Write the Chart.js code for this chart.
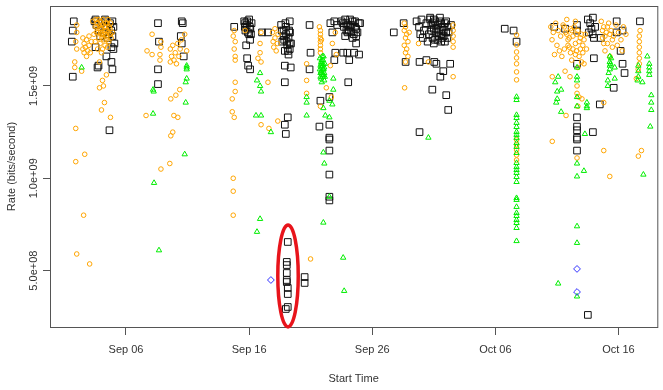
<!DOCTYPE html>
<html>
<head>
<meta charset="utf-8">
<script src="https://cdn.jsdelivr.net/npm/chart.js@4.4.0/dist/chart.umd.min.js"></script>
<style>
  html, body { margin: 0; padding: 0; background: #fff; }
  #chart { display: block; }
</style>
</head>
<body>
<canvas id="chart" width="663" height="390"></canvas>
<script>
// x = days since Sep 01, y = rate in units of 1e9 bits/second
const xTicks = [5, 15, 25, 35, 45];
const xTickLabels = ['Sep 06', 'Sep 16', 'Sep 26', 'Oct 06', 'Oct 16'];
const yTicks = [0.5, 1.0, 1.5];
const yTickLabels = ['5.0e+08', '1.0e+09', '1.5e+09'];

const squares = [
  [0.76,1.85],[0.68,1.80],[0.60,1.74],[0.68,1.55],[2.53,1.86],[2.45,1.85],[3.33,1.85],[3.90,1.85],[3.98,1.82],
  [2.53,1.71],[2.77,1.61],[2.69,1.60],[3.82,1.71],[4.06,1.73],[3.98,1.70],[3.41,1.66],[3.82,1.63],[3.90,1.59],[3.66,1.26],
  [2.6,1.83],[2.8,1.80],[3.0,1.84],[3.2,1.79],[3.4,1.82],[3.6,1.78],[3.7,1.84],[3.9,1.77],[3.5,1.76],[2.9,1.77],[3.8,1.80],[3.3,1.86],
  [7.60,1.84],[7.68,1.74],[7.60,1.59],[7.60,1.51],[9.53,1.85],[9.61,1.84],[9.45,1.77],[9.53,1.73],[9.69,1.66],
  [13.79,1.82],[14.68,1.84],[14.6,1.85],[14.8,1.83],[15.0,1.86],[15.1,1.81],[14.9,1.79],[14.7,1.80],[15.2,1.84],[15.0,1.78],
  [14.65,1.82],[14.85,1.85],[15.05,1.82],[15.15,1.78],
  [15.08,1.75],[14.76,1.72],[14.84,1.65],[14.92,1.61],[15.08,1.59],[16.05,1.79],[16.53,1.79],
  [17.6,1.83],[17.8,1.80],[18.0,1.78],[18.2,1.76],[17.7,1.74],[18.1,1.72],[18.3,1.70],[17.9,1.69],[18.4,1.73],[18.2,1.67],[17.8,1.77],[18.0,1.82],[18.3,1.79],
  [17.65,1.80],[17.85,1.75],[18.05,1.74],[18.25,1.80],[17.95,1.84],[18.15,1.69],
  [18.30,1.85],[18.30,1.79],[18.30,1.73],[17.90,1.61],[18.38,1.60],[17.90,1.52],[18.14,1.33],[17.90,1.29],[17.98,1.24],
  [18.14,0.655],[18.06,0.547],[18.06,0.530],[18.06,0.487],[18.06,0.449],[18.06,0.438],[18.14,0.406],[18.14,0.373],[18.14,0.303],[17.98,0.292],
  [19.51,0.465],[19.51,0.433],
  [19.91,1.83],[19.99,1.68],[19.91,1.59],[20.79,1.42],[20.71,1.28],[21.52,1.44],[21.52,1.29],[21.52,1.22],[21.52,1.21],[21.52,1.15],
  [21.52,1.02],[21.52,0.90],[21.52,0.88],[21.60,1.84],[21.92,1.85],[21.76,1.79],[22.16,1.83],
  [22.5,1.85],[22.7,1.82],[22.9,1.84],[23.1,1.80],[23.3,1.83],[23.5,1.78],[23.7,1.81],[23.9,1.84],[22.8,1.77],[23.2,1.86],[23.6,1.85],[23.0,1.79],[23.4,1.76],
  [22.6,1.84],[22.8,1.86],[23.0,1.83],[23.2,1.82],[23.4,1.85],[23.6,1.82],[23.8,1.79],[23.3,1.79],[22.9,1.80],[23.7,1.77],
  [22.97,1.68],[22.64,1.68],[23.13,1.64],[23.53,1.68],[23.93,1.67],[23.69,1.73],[24.01,1.84],[23.05,1.52],[22.00,1.68],[21.92,1.64],
  [26.75,1.79],[27.55,1.84],
  [28.6,1.85],[28.8,1.82],[29.0,1.86],[29.2,1.80],[29.4,1.84],[29.6,1.78],[29.8,1.83],[30.0,1.86],[30.2,1.81],[30.4,1.77],[30.6,1.84],
  [30.8,1.80],[31.0,1.85],[31.2,1.79],[31.4,1.83],[29.1,1.76],[29.5,1.74],[30.1,1.75],[30.9,1.74],[28.9,1.78],[29.7,1.87],[30.5,1.87],
  [29.7,1.86],[29.9,1.84],[30.1,1.85],[30.3,1.83],[30.5,1.85],[30.7,1.82],[30.9,1.84],[31.1,1.82],[29.8,1.80],[30.0,1.81],[30.2,1.79],
  [30.4,1.80],[30.6,1.78],[30.8,1.77],[31.0,1.79],[29.9,1.76],[30.3,1.75],[30.7,1.76],[31.1,1.76],[30.0,1.73],[30.6,1.74],
  [28.84,1.63],[29.40,1.64],[30.04,1.63],[30.21,1.62],[31.33,1.62],[30.77,1.58],[30.53,1.55],[31.01,1.45],[31.17,1.37],[29.88,1.48],[28.84,1.25],[27.71,1.63],
  [35.76,1.81],[36.48,1.80],[36.72,1.74],
  [39.78,1.82],[40.66,1.81],[41.63,1.83],[41.63,1.80],[42.51,1.86],[42.92,1.87],
  [42.7,1.84],[42.8,1.81],[42.9,1.78],[43.0,1.76],[42.6,1.79],[43.1,1.82],
  [43.56,1.76],[44.85,1.85],[44.85,1.79],[45.33,1.80],[46.74,1.85],[45.17,1.69],[45.33,1.62],[45.49,1.57],[44.61,1.49],
  [43.00,1.65],[43.48,1.40],[42.92,1.25],[41.63,1.62],[41.63,1.33],[41.63,1.28],[41.63,1.26],[41.63,1.22],[41.63,1.21],[41.63,1.15],[42.51,0.26]
];

const circles = [
  [1.00,1.83],[1.00,1.79],[0.92,1.74],[1.00,1.70],[0.84,1.63],[0.84,1.60],[1.40,1.58],
  [1.5,1.76],[1.6,1.73],[1.7,1.71],[1.8,1.75],[1.9,1.69],[2.0,1.72],[2.1,1.68],[1.6,1.68],[1.8,1.66],[2.2,1.74],[1.5,1.70],[2.0,1.77],
  [0.92,1.27],[0.92,1.09],[1.65,1.13],[3.01,1.68],[2.85,1.63],[3.09,1.53],[2.85,1.49],[3.25,1.41],[3.01,1.37],[3.74,1.33],[3.41,1.56],[3.17,1.50],
  [2.3,1.85],[2.5,1.82],[2.7,1.84],[2.9,1.81],[3.1,1.83],[3.3,1.80],[3.5,1.84],[3.7,1.81],[3.9,1.79],[2.4,1.78],[2.6,1.79],[2.8,1.76],
  [3.0,1.78],[3.2,1.75],[3.4,1.77],[3.6,1.74],[3.8,1.76],[2.5,1.74],[2.9,1.73],[3.3,1.72],[2.7,1.70],[3.1,1.70],[3.5,1.71],
  [2.55,1.86],[2.75,1.86],[2.95,1.85],[3.15,1.86],[3.35,1.84],[3.55,1.86],[3.75,1.84],[2.65,1.82],[2.85,1.83],[3.05,1.81],[3.25,1.82],
  [3.45,1.80],[3.65,1.82],[2.75,1.79],[2.95,1.79],[3.15,1.78],[3.35,1.78],[3.55,1.79],[3.75,1.78],[3.05,1.76],[3.45,1.75],
  [1.56,0.80],[1.00,0.59],[2.05,0.536],
  [7.12,1.78],[6.71,1.69],[7.12,1.67],[7.84,1.74],[7.84,1.71],[7.76,1.67],[7.76,1.64],
  [8.6,1.70],[8.8,1.72],[9.0,1.68],[9.2,1.73],[9.4,1.70],[8.7,1.66],[8.9,1.64],[9.1,1.62],[9.3,1.66],[8.6,1.63],[9.5,1.75],
  [8.64,1.43],[9.05,1.45],[9.37,1.48],[6.63,1.34],[8.89,1.34],[9.21,1.33],[8.80,1.25],[8.64,1.23],[8.56,1.08],[7.84,1.05],[9.93,1.69],[9.77,1.78],
  [13.79,1.80],[13.71,1.77],[13.87,1.74],[13.79,1.70],[13.87,1.66],[13.87,1.64],
  [13.87,1.52],[13.87,1.47],[13.63,1.43],[13.63,1.36],[13.79,1.33],[13.71,1.00],[13.71,0.93],[13.71,0.80],
  [14.68,1.80],[15.97,1.79],[15.89,1.73],[15.89,1.68],[15.72,1.65],[15.97,1.63],[16.53,1.52],[15.97,1.29],[16.61,1.27],[17.33,1.31],
  [16.9,1.79],[17.1,1.76],[17.3,1.73],[17.0,1.71],[17.2,1.69],[16.95,1.74],[17.35,1.78],[17.1,1.81],
  [20.79,1.80],[20.79,1.78],[20.79,1.76],[20.79,1.74],[20.79,1.72],[20.79,1.70],[20.79,1.68],[20.71,1.82],[20.87,1.75],
  [19.67,1.62],[19.67,1.53],[19.67,1.46],[20.79,1.39],[21.76,1.73],[21.60,1.61],[21.68,1.44],[21.27,1.49],[22.08,1.67],[22.00,1.79],[19.99,0.563],
  [27.6,1.84],[27.7,1.82],[27.6,1.80],[27.8,1.78],[27.7,1.76],[27.9,1.74],[27.6,1.72],[27.8,1.70],[27.7,1.68],[27.9,1.66],[27.7,1.63],[28.0,1.79],
  [27.63,1.49],[28.76,1.73],[29.56,1.63],[31.57,1.83],[31.57,1.80],[31.57,1.77],[31.57,1.74],[31.57,1.71],[31.57,1.55],
  [36.72,1.776],[36.72,1.722],[36.72,1.684],[36.72,1.652],[36.72,1.620],[36.72,1.576],[36.72,1.533],
  [36.72,1.208],[36.72,1.181],[36.72,1.153],[36.72,1.126],[36.72,1.099],
  [39.5,1.82],[39.7,1.79],[39.9,1.84],[40.1,1.80],[40.3,1.77],[40.5,1.83],[40.7,1.79],[40.9,1.75],[41.1,1.81],[41.3,1.77],[41.5,1.73],
  [41.7,1.80],[41.9,1.76],[42.1,1.72],[42.3,1.78],[41.6,1.69],[41.8,1.66],[42.0,1.63],[41.7,1.60],[42.1,1.68],[40.0,1.72],[40.2,1.69],
  [39.8,1.67],[40.6,1.70],[40.4,1.66],[41.0,1.71],[41.2,1.64],[42.4,1.70],[42.2,1.62],[41.5,1.85],[39.6,1.75],[40.8,1.86],
  [40.6,1.82],[40.8,1.78],[41.0,1.76],[41.2,1.80],[41.4,1.82],[41.6,1.78],[41.8,1.74],[42.0,1.78],[41.3,1.70],[41.5,1.67],
  [41.9,1.70],[42.2,1.75],[40.9,1.72],[41.1,1.68],
  [43.6,1.85],[43.8,1.82],[44.0,1.79],[44.2,1.84],[44.4,1.80],[44.6,1.77],[44.8,1.83],[45.0,1.79],[45.2,1.75],[45.4,1.82],[45.6,1.78],
  [43.7,1.76],[44.1,1.73],[44.5,1.71],[44.9,1.72],[45.3,1.69],[43.9,1.69],[44.3,1.66],
  [43.7,1.80],[43.9,1.77],[44.1,1.82],[44.3,1.78],[44.5,1.75],[43.8,1.73],
  [46.69,1.77],[46.69,1.74],[46.69,1.71],[46.69,1.68],[46.69,1.65],[46.69,1.62],[46.6,1.59],[46.75,1.80],
  [39.62,1.55],[40.66,1.58],[41.06,1.55],[40.74,1.34],[39.62,1.20],[41.63,1.11],[43.80,1.15],[44.29,1.01],[46.86,1.15],[46.61,1.12],
  [42.03,1.43],[43.80,1.41],[41.79,1.44],[46.45,1.54],[41.63,1.50],[41.63,1.46],[41.7,1.39]
];

const triangles = [
  [1.40,1.60],
  [9.93,1.61],[9.93,1.60],[9.93,1.59],[9.93,1.54],[9.85,1.52],[9.85,1.41],[9.77,1.13],[7.20,1.48],[7.25,1.47],[7.20,1.35],[7.28,0.975],[7.68,0.61],
  [15.89,1.57],[15.64,1.53],[15.89,1.50],[15.97,1.47],[15.56,1.34],[15.97,1.34],[16.77,1.25],[15.89,0.78],[15.64,0.71],
  [20.75,1.65],[20.85,1.63],[20.95,1.61],[21.05,1.59],[20.8,1.57],[21.0,1.55],[21.1,1.53],[20.9,1.60],[21.15,1.62],[20.85,1.54],
  [21.0,1.64],[21.1,1.57],[20.75,1.59],[20.95,1.56],[21.05,1.66],[20.9,1.52],
  [20.8,1.61],[20.9,1.64],[21.0,1.62],[21.1,1.60],[20.85,1.58],[20.95,1.66],[21.05,1.56],[20.8,1.55],[21.15,1.55],[20.9,1.57],[21.0,1.59],[20.85,1.62],
  [21.84,1.54],[21.84,1.48],[21.52,1.42],[21.76,1.40],[21.03,1.38],[21.19,1.34],[21.52,1.33],[19.67,1.44],[19.67,1.41],[19.67,1.34],
  [21.03,1.14],[21.11,1.08],[21.52,0.90],[21.03,0.76],[22.64,0.57],[22.72,0.39],
  [29.56,1.22],
  [36.72,1.441],[36.72,1.424],[36.72,1.343],[36.72,1.327],[36.72,1.300],[36.72,1.278],[36.72,1.251],[36.72,1.235],[36.72,1.219],
  [36.72,1.191],[36.72,1.170],[36.72,1.137],[36.72,1.083],[36.72,1.061],[36.72,1.045],[36.72,1.029],[36.72,1.007],[36.72,0.980],
  [36.72,0.893],[36.72,0.883],[36.72,0.845],[36.72,0.812],[36.72,0.796],[36.72,0.774],[36.72,0.758],[36.72,0.731],[36.72,0.660],
  [40.10,1.55],[39.86,1.52],[40.34,1.48],[40.02,1.47],[40.02,1.43],[39.94,1.41],[40.34,1.36],
  [41.63,1.60],[41.63,1.55],[41.63,1.53],[41.63,1.44],[41.63,1.39],[42.27,1.24],[42.43,1.39],[42.43,1.38],[42.43,1.41],
  [41.63,1.08],[41.63,1.01],[42.19,1.04],
  [44.29,1.66],[44.29,1.63],[44.29,1.61],[44.29,1.59],[44.2,1.57],[44.35,1.62],[44.4,1.65],[44.69,1.60],[44.69,1.54],[44.13,1.53],[44.13,1.50],
  [46.61,1.61],[46.61,1.58],[46.61,1.55],[46.55,1.53],[47.34,1.66],[47.50,1.62],[47.50,1.60],[47.50,1.58],[47.50,1.56],
  [47.66,1.45],[47.66,1.41],[47.66,1.37],[47.58,1.28],[47.02,1.02],[46.94,1.52],
  [40.10,0.43],[41.63,0.36],[41.63,0.65],[41.63,0.74]
];

const diamonds = [[16.77,0.449],[41.63,0.509],[41.63,0.384]];

// highlighted group (red ellipse), in data units
const highlight = { x: 18.16, y: 0.471, rx: 0.83, ry: 0.276 };

const FONT = "'Liberation Sans Narrow', 'Liberation Sans', Arial, sans-serif";
const AXIS = '#555';
const TEXT = '#333';

const framePlugin = {
  id: 'frame',
  afterDatasetsDraw(chart) {
    const { ctx, chartArea: a, scales: { x, y } } = chart;
    ctx.save();
    ctx.strokeStyle = AXIS;
    ctx.lineWidth = 1;
    ctx.strokeRect(a.left + 0.5, a.top + 0.5, a.right - a.left, a.bottom - a.top);

    // red ellipse round the low group
    const cx = x.getPixelForValue(highlight.x);
    const cy = y.getPixelForValue(highlight.y);
    const rx = Math.abs(x.getPixelForValue(highlight.x + highlight.rx) - cx);
    const ry = Math.abs(y.getPixelForValue(highlight.y + highlight.ry) - cy);
    ctx.beginPath();
    ctx.ellipse(cx, cy, rx, ry, 0, 0, Math.PI * 2);
    ctx.strokeStyle = '#E8141B';
    ctx.lineWidth = 3.5;
    ctx.stroke();

    // y tick labels, rotated like R's las=0
    ctx.fillStyle = TEXT;
    ctx.font = '11px ' + FONT;
    ctx.textAlign = 'center';
    ctx.textBaseline = 'middle';
    yTicks.forEach((v, i) => {
      ctx.save();
      ctx.translate(34, y.getPixelForValue(v));
      ctx.rotate(-Math.PI / 2);
      ctx.fillText(yTickLabels[i], 0, 0);
      ctx.restore();
    });
    ctx.restore();
  }
};

const pts = (style, color, radius, data, order) => ({
  data, order,
  pointStyle: style,
  pointRadius: radius,
  pointBorderColor: color,
  pointBackgroundColor: 'rgba(0,0,0,0)',
  pointBorderWidth: 1,
  showLine: false
});

new Chart(document.getElementById('chart'), {
  type: 'scatter',
  data: {
    datasets: [
      pts('rectRot', '#3030FF', 3.4, diamonds, 0),
      pts('triangle', '#00EE00', 3.1, triangles, 1),
      pts('circle', '#FFA500', 2.3, circles, 2),
      pts('rect', '#111', 4.7, squares, 3)
    ]
  },
  options: {
    responsive: false,
    animation: false,
    events: [],
    layout: { padding: { top: 6, right: 0, left: 0, bottom: 0 } },
    plugins: { legend: { display: false }, tooltip: { enabled: false } },
    scales: {
      x: {
        type: 'linear',
        bounds: 'data',
        min: -1.17,
        max: 48.15,
        afterBuildTicks: axis => { axis.ticks = xTicks.map(v => ({ value: v })); },
        afterFit: axis => { axis.height = 63; },
        ticks: {
          color: TEXT,
          padding: 8,
          maxRotation: 0,
          autoSkip: false,
          font: { family: FONT, size: 11 },
          callback: v => xTickLabels[xTicks.indexOf(v)]
        },
        grid: { drawOnChartArea: false, color: AXIS, tickLength: 8 },
        border: { display: true, color: AXIS, width: 1 },
        title: {
          display: true,
          text: 'Start Time',
          color: TEXT,
          font: { family: FONT, size: 11 },
          padding: { top: 0, bottom: 4.4 }
        }
      },
      y: {
        type: 'linear',
        bounds: 'data',
        min: 0.1945,
        max: 1.933,
        afterBuildTicks: axis => { axis.ticks = yTicks.map(v => ({ value: v })); },
        afterFit: axis => { axis.width = 50; },
        ticks: { display: false },
        grid: { drawOnChartArea: false, color: AXIS, tickLength: 7 },
        border: { display: true, color: AXIS, width: 1 },
        title: {
          display: true,
          text: 'Rate (bits/second)',
          color: TEXT,
          font: { family: FONT, size: 11 },
          padding: { top: 5.4, bottom: 0 }
        }
      }
    }
  },
  plugins: [framePlugin]
});
</script>
</body>
</html>
